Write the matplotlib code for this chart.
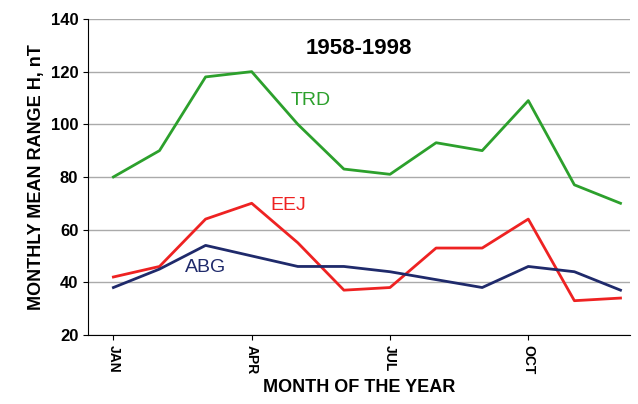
import numpy as np
import matplotlib.pyplot as plt

plt.rcParams['font.family'] = ['Liberation Sans', 'DejaVu Sans']
plt.rcParams['font.weight'] = 'bold'
plt.rcParams['axes.labelweight'] = 'bold'

months = np.arange(12)
trd = [80, 90, 118, 120, 100, 83, 81, 93, 90, 109, 77, 70]
eej = [42, 46, 64, 70, 55, 37, 38, 53, 53, 64, 33, 34]
abg = [38, 45, 54, 50, 46, 46, 44, 41, 38, 46, 44, 37]
tick_pos = [0, 3, 6, 9]
tick_labels = ['JAN', 'APR', 'JUL', 'OCT']

fig = plt.figure(figsize=(6.38, 4.04), dpi=100)
ax = fig.add_axes([0.138, 0.171, 0.849, 0.782])
ax.plot(months, trd, color='#2ca02c', lw=2)
ax.plot(months, eej, color='#ee2222', lw=2)
ax.plot(months, abg, color='#1f2a6b', lw=2)
ax.set_xlim(-0.55, 11.2)
ax.set_ylim(20, 140)
ax.set_yticks(range(20, 141, 20))
ax.yaxis.grid(True, color='#aaaaaa', lw=1)
ax.set_axisbelow(True)
ax.set_xticks(tick_pos)
ax.set_xticklabels(tick_labels, rotation=-90, fontsize=10)
ax.tick_params(axis='y', labelsize=12)
for s in ['top', 'right']:
    ax.spines[s].set_visible(False)
ax.set_xlabel('MONTH OF THE YEAR', fontsize=13)
ax.set_ylabel('MONTHLY MEAN RANGE H, nT', fontsize=13)
ax.text(0.5, 0.94, '1958-1998', transform=ax.transAxes, ha='center', va='top', fontsize=16)
ax.text(3.85, 109, 'TRD', color='#2ca02c', fontsize=14, fontweight='normal', va='center')
ax.text(3.4, 69, 'EEJ', color='#ee2222', fontsize=14, fontweight='normal', va='center')
ax.text(1.55, 45.5, 'ABG', color='#1f2a6b', fontsize=14, fontweight='normal', va='center')
fig.savefig('out.png')
